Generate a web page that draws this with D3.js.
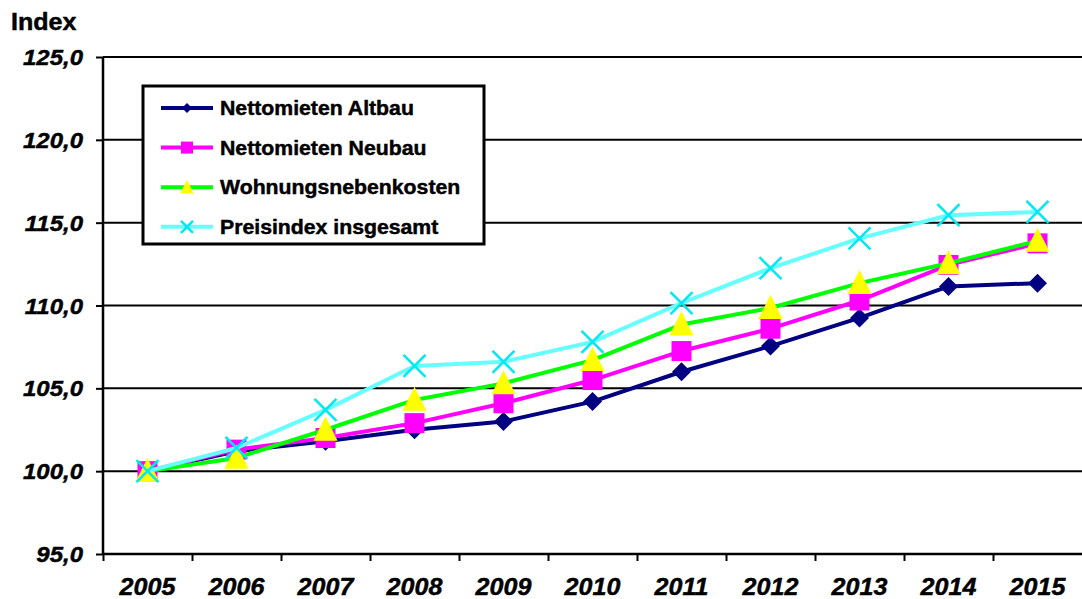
<!DOCTYPE html>
<html>
<head>
<meta charset="utf-8">
<script src="https://cdn.jsdelivr.net/npm/d3@7"></script>
<style>
  body { margin: 0; background: #fff; }
  text { font-family: "Liberation Sans", Arial, sans-serif; font-weight: bold; fill: #000; stroke: #000; stroke-width: 0.45px; }
</style>
</head>
<body>
<div id="graph"></div>
<script>
"use strict";

var years = ["2005","2006","2007","2008","2009","2010","2011","2012","2013","2014","2015"];
var altbau = [100.0, 101.2, 101.8, 102.5, 103.0, 104.2, 106.0, 107.55, 109.25, 111.15, 111.35];
var neubau = [100.0, 101.3, 102.0, 102.9, 104.1, 105.5, 107.25, 108.6, 110.3, 112.45, 113.75];
var nebenkosten = [100.0, 100.8, 102.5, 104.3, 105.3, 106.7, 108.85, 109.85, 111.35, 112.55, 113.9];
var gesamt = [100.0, 101.4, 103.7, 106.35, 106.6, 107.8, 110.15, 112.25, 114.05, 115.45, 115.65];
var yTicks = [95, 100, 105, 110, 115, 120, 125];

var series = [
  {name: "Nettomieten Altbau", values: altbau, line: "#000080", marker: "diamond", fill: "#000080"},
  {name: "Nettomieten Neubau", values: neubau, line: "#ff00ff", marker: "square", fill: "#ff00ff"},
  {name: "Wohnungsnebenkosten", values: nebenkosten, line: "#00ff00", marker: "triangle", fill: "#ffff00"},
  {name: "Preisindex insgesamt", values: gesamt, line: "#66ffff", marker: "cross", fill: "#00e8f0"}
];

var W = 1082, H = 599;
var margin = {top: 57, right: 0, bottom: 45, left: 103};
var width = W - margin.left - margin.right;
var height = H - margin.top - margin.bottom;
var stretch = 1.09;

var svg = d3.select("#graph").append("svg")
  .attr("width", W)
  .attr("height", H);

var g = svg.append("g").attr("transform", "translate(" + margin.left + "," + margin.top + ")");

var x = d3.scaleBand().domain(years).range([0, width]);
var y = d3.scaleLinear().domain([95, 125]).range([height, 0]);

// text stretched a bit wider, like the original
function label(parent, tx, ty, str, size, anchor, italic) {
  return parent.append("text")
    .attr("transform", "translate(" + tx + "," + ty + ") scale(" + stretch + ",1)")
    .attr("text-anchor", anchor)
    .style("font-size", size + "px")
    .style("font-style", italic ? "italic" : "normal")
    .text(str);
}

// gridlines
g.selectAll(".grid").data(yTicks.slice(1)).enter().append("line")
  .attr("x1", 0).attr("x2", width)
  .attr("y1", function(d) { return y(d); })
  .attr("y2", function(d) { return y(d); })
  .attr("stroke", "#000").attr("stroke-width", 2);

// y axis
var yAxis = g.append("g")
  .call(d3.axisLeft(y).tickValues(yTicks).tickSize(7).tickFormat(""));
yAxis.select(".domain").remove();
yAxis.selectAll("line").attr("stroke", "#000").attr("stroke-width", 2);
g.append("line").attr("x1", 0).attr("x2", 0).attr("y1", 0).attr("y2", height)
  .attr("stroke", "#000").attr("stroke-width", 2.5);

yTicks.forEach(function(t) {
  label(g, -20, y(t) + 8, d3.format(".1f")(t).replace(".", ","), 22, "end", true);
});

// x axis
var xAxis = g.append("g")
  .attr("transform", "translate(0," + height + ")")
  .call(d3.axisBottom(d3.scaleLinear().domain([0, years.length]).range([0, width]))
    .tickValues(d3.range(years.length)).tickSize(7).tickFormat(""));
xAxis.select(".domain").remove();
xAxis.selectAll("line").attr("stroke", "#000").attr("stroke-width", 2);
g.append("line").attr("x1", 0).attr("x2", width).attr("y1", height).attr("y2", height)
  .attr("stroke", "#000").attr("stroke-width", 2.5);

years.forEach(function(yr) {
  label(g, x(yr) + x.bandwidth() / 2, height + 41, yr, 23, "middle", true);
});

label(svg, 11, 30, "Index", 23, "start", false);

// markers
function drawMarker(sel, type, fill, s) {
  if (type === "diamond") {
    sel.append("path").attr("d", "M0," + (-s) + "L" + s + ",0L0," + s + "L" + (-s) + ",0Z").attr("fill", fill);
  } else if (type === "square") {
    sel.append("rect").attr("x", -s).attr("y", -s).attr("width", 2 * s).attr("height", 2 * s).attr("fill", fill);
  } else if (type === "triangle") {
    sel.append("path").attr("d", "M0," + (-s * 1.15) + "L" + (s * 1.05) + "," + (s * 0.95) + "L" + (-s * 1.05) + "," + (s * 0.95) + "Z").attr("fill", fill);
  } else {
    sel.append("path").attr("d", "M" + (-s) + "," + (-s) + "L" + s + "," + s + "M" + s + "," + (-s) + "L" + (-s) + "," + s)
      .attr("stroke", fill).attr("stroke-width", 2.5).attr("fill", "none");
  }
}

var markerSize = {diamond: 9.5, square: 10, triangle: 11.5, cross: 11};

var line = d3.line()
  .x(function(d, i) { return x(years[i]) + x.bandwidth() / 2; })
  .y(function(d) { return y(d); });

series.forEach(function(s) {
  g.append("path")
    .datum(s.values)
    .attr("d", line)
    .attr("fill", "none")
    .attr("stroke", s.line)
    .attr("stroke-width", 4)
    .attr("stroke-linejoin", "round");
  s.values.forEach(function(v, i) {
    var m = g.append("g")
      .attr("transform", "translate(" + (x(years[i]) + x.bandwidth() / 2) + "," + y(v) + ")");
    drawMarker(m, s.marker, s.fill, markerSize[s.marker]);
  });
});

// legend
var legend = svg.append("g").attr("transform", "translate(143,86)");
legend.append("rect")
  .attr("x", 0).attr("y", 0).attr("width", 341).attr("height", 158)
  .attr("fill", "#fff").attr("stroke", "#000").attr("stroke-width", 3);

var legendSize = {diamond: 5, square: 6, triangle: 6.5, cross: 6};
series.forEach(function(s, i) {
  var ly = 22 + i * 39.6;
  var item = legend.append("g").attr("transform", "translate(0," + ly + ")");
  item.append("line").attr("x1", 18).attr("x2", 70).attr("y1", 0).attr("y2", 0)
    .attr("stroke", s.line).attr("stroke-width", 4);
  var m = item.append("g").attr("transform", "translate(44,0)");
  drawMarker(m, s.marker, s.fill, legendSize[s.marker]);
  label(item, 77, 7, s.name, 19.5, "start", false);
});
</script>
</body>
</html>
